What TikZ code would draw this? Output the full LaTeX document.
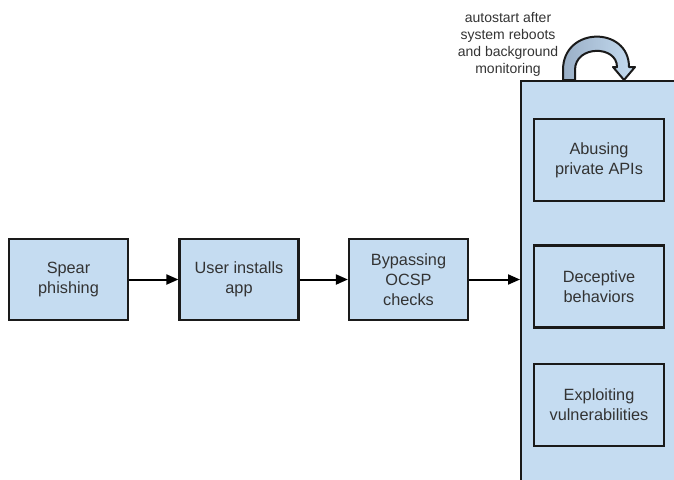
\documentclass[tikz,border=0pt]{standalone}
\usepackage{fontspec}
\setmainfont{Liberation Sans}
\usetikzlibrary{arrows.meta}
\definecolor{boxblue}{HTML}{C5DCF1}
\definecolor{loopdark}{HTML}{9AAFC6}
\definecolor{edge}{HTML}{1A1A1A}
\definecolor{txt}{HTML}{333333}
\begin{document}
\begin{tikzpicture}[x=1pt,y=-1pt,
  stepbox/.style={draw=edge,line width=2.2pt,fill=boxblue,text=txt,minimum width=119pt,minimum height=81pt,inner sep=0pt,align=center,font=\fontsize{16.3}{20}\selectfont},
  innerbox/.style={draw=edge,line width=2.2pt,fill=boxblue,text=txt,minimum width=130pt,minimum height=82pt,inner sep=0pt,align=center,font=\fontsize{16.3}{20}\selectfont},
  flow/.style={line width=2pt,draw=black,-{Triangle[length=12pt,width=10pt]}}]
\useasboundingbox (0,0) rectangle (674,479);
\begin{scope}
\clip (0,0) rectangle (674,479);
\node[draw=edge,line width=2.4pt,fill=boxblue,minimum width=170pt,minimum height=440pt,inner sep=0pt,anchor=north west] (cont) at (520,80) {};
\end{scope}
\node[stepbox] (spear) at (68.5,279.5) {Spear\\phishing};
\node[stepbox] (user) at (239,279.5) {User installs\\app};
\node[stepbox] (ocsp) at (408.5,279.5) {Bypassing\\OCSP\\checks};
\node[innerbox] (api) at (599,160) {Abusing\\private APIs};
\node[innerbox] (dec) at (599,286.5) {Deceptive\\behaviors};
\node[innerbox] (exp) at (599,405) {Exploiting\\vulnerabilities};
\draw[flow] (spear) -- (user);
\draw[flow] (user) -- (ocsp);
\draw[flow] (ocsp.east) -- (ocsp.east -| cont.west);
\coordinate (lf) at (563,80);
\shade[left color=loopdark,right color=boxblue,draw=edge,line width=2pt,line join=round]
  (lf) -- (563,70) .. controls (563,26) and (629,26) .. (629,67) -- (635,67) -- (624,80) -- (613,67) -- (617,67)
  .. controls (617,45) and (575,45) .. (575,70) -- (575,80) -- cycle;
\node[align=center,text=txt,font=\fontsize{14}{17}\selectfont] (note) at (508,44) {autostart after\\system reboots\\and background\\monitoring};
\end{tikzpicture}
\end{document}
